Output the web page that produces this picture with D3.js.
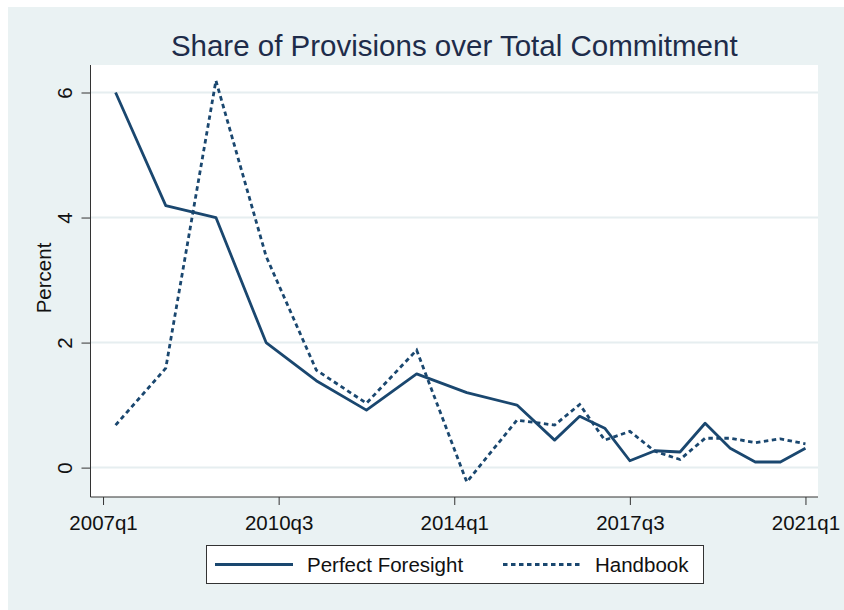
<!DOCTYPE html>
<html>
<head>
<meta charset="utf-8">
<script src="https://cdn.jsdelivr.net/npm/d3@7"></script>
<style>
  html, body { margin: 0; padding: 0; background: #fff; }
  svg { display: block; font-family: "Liberation Sans", Arial, sans-serif; }
</style>
</head>
<body>
<div id="chart"></div>
<script>
// quarterly observations (Stata %tq style labels)
const quarters = ['2007q2', '2008q2', '2009q2', '2010q2', '2011q2', '2012q2', '2013q2', '2014q2', '2015q2',
  '2016q1', '2016q3', '2017q1', '2017q3', '2018q1', '2018q3', '2019q1', '2019q3', '2020q1', '2020q3', '2021q1'];
const perfectForesight = [6.0, 4.19, 4.0, 2.0, 1.39, 0.92, 1.5, 1.2, 1.0,
  0.44, 0.82, 0.63, 0.11, 0.27, 0.25, 0.71, 0.31, 0.09, 0.09, 0.31];
const handbook = [0.68, 1.59, 6.19, 3.38, 1.56, 1.03, 1.88, -0.23, 0.76,
  0.68, 1.01, 0.44, 0.58, 0.26, 0.13, 0.47, 0.47, 0.40, 0.46, 0.38];
const xTickLabels = ['2007q1', '2010q3', '2014q1', '2017q3', '2021q1'];
const yTicks = [0, 2, 4, 6];
const seriesNames = ['Perfect Foresight', 'Handbook'];

const W = 844, H = 610;
const navy = '#1a476f', bg = '#eaf2f3';
const dash = '4.5,3.5';
const plot = { left: 90.5, right: 818, top: 65, bottom: 497 };

// quarter label -> quarters since 2007q1
const qIndex = s => (Number(s.slice(0, 4)) - 2007) * 4 + Number(s.slice(5)) - 1;

const x = d3.scaleLinear().domain([-1, 57]).range([plot.left, plot.right]);
const y = d3.scaleLinear().domain([-0.47, 6.44]).range([plot.bottom, plot.top]);

const svg = d3.select('#chart').append('svg')
  .attr('width', W).attr('height', H);

svg.append('rect').attr('x', 8).attr('y', 7).attr('width', W - 8).attr('height', H - 7).attr('fill', bg);
svg.append('rect')
  .attr('x', plot.left).attr('y', plot.top)
  .attr('width', plot.right - plot.left).attr('height', plot.bottom - plot.top)
  .attr('fill', '#fff');

// gridlines
svg.append('g').selectAll('line').data(yTicks).enter().append('line')
  .attr('x1', plot.left).attr('x2', plot.right)
  .attr('y1', d => y(d)).attr('y2', d => y(d))
  .attr('stroke', '#e6eef0').attr('stroke-width', 2);

// y axis
const yAxis = svg.append('g')
  .attr('transform', `translate(${plot.left},0)`)
  .call(d3.axisLeft(y).tickValues(yTicks).tickSize(9).tickFormat(d3.format('d')));
yAxis.select('.domain').attr('d', `M0,${plot.top}V${plot.bottom}`);
yAxis.selectAll('line, path').attr('stroke', '#333');
yAxis.selectAll('text')
  .attr('x', null).attr('dy', null)
  .attr('transform', 'translate(-18.5,0) rotate(-90)')
  .attr('text-anchor', 'middle')
  .attr('font-size', 20.5).attr('font-family', null).attr('fill', '#111');

// x axis
const xAxis = svg.append('g')
  .attr('transform', `translate(0,${plot.bottom})`)
  .call(d3.axisBottom(x).tickValues(xTickLabels.map(qIndex)).tickSize(8)
    .tickFormat((d, i) => xTickLabels[i]));
xAxis.select('.domain').attr('d', `M${plot.left},0H${plot.right}`);
xAxis.selectAll('line, path').attr('stroke', '#333');
xAxis.selectAll('text')
  .attr('y', 33).attr('dy', null)
  .attr('font-size', 20.5).attr('font-family', null).attr('fill', '#111');

svg.append('text')
  .attr('transform', `translate(50.5,${(plot.top + plot.bottom) / 2 - 3}) rotate(-90)`)
  .attr('text-anchor', 'middle').attr('font-size', 20.5).attr('fill', '#111')
  .text('Percent');

// title
svg.append('text')
  .attr('x', (plot.left + plot.right) / 2).attr('y', 56)
  .attr('text-anchor', 'middle').attr('font-size', 29.5).attr('fill', '#1e2c4a')
  .text('Share of Provisions over Total Commitment');

// lines
const lineFn = vals => d3.line()
  .x((d, i) => x(qIndex(quarters[i])))
  .y(d => y(d))(vals);

const ink = svg.append('g');
ink.append('path').attr('d', lineFn(handbook))
  .attr('fill', 'none').attr('stroke', navy).attr('stroke-width', 2.8)
  .attr('stroke-dasharray', dash);
ink.append('path').attr('d', lineFn(perfectForesight))
  .attr('fill', 'none').attr('stroke', navy).attr('stroke-width', 2.8)
  .attr('stroke-linejoin', 'round');

// legend
const legend = svg.append('g');
legend.append('rect')
  .attr('x', 206.5).attr('y', 545.5).attr('width', 497).attr('height', 38)
  .attr('fill', '#fff').attr('stroke', '#333').attr('stroke-width', 1);
const keyX = [215, 503];
seriesNames.forEach((name, i) => {
  legend.append('line')
    .attr('x1', keyX[i]).attr('x2', keyX[i] + 78)
    .attr('y1', 564.5).attr('y2', 564.5)
    .attr('stroke', navy).attr('stroke-width', 2.8)
    .attr('stroke-dasharray', i === 1 ? dash : null);
  legend.append('text')
    .attr('x', keyX[i] + 92).attr('y', 572)
    .attr('font-size', 20.5).attr('fill', '#111')
    .text(name);
});
</script>
</body>
</html>
